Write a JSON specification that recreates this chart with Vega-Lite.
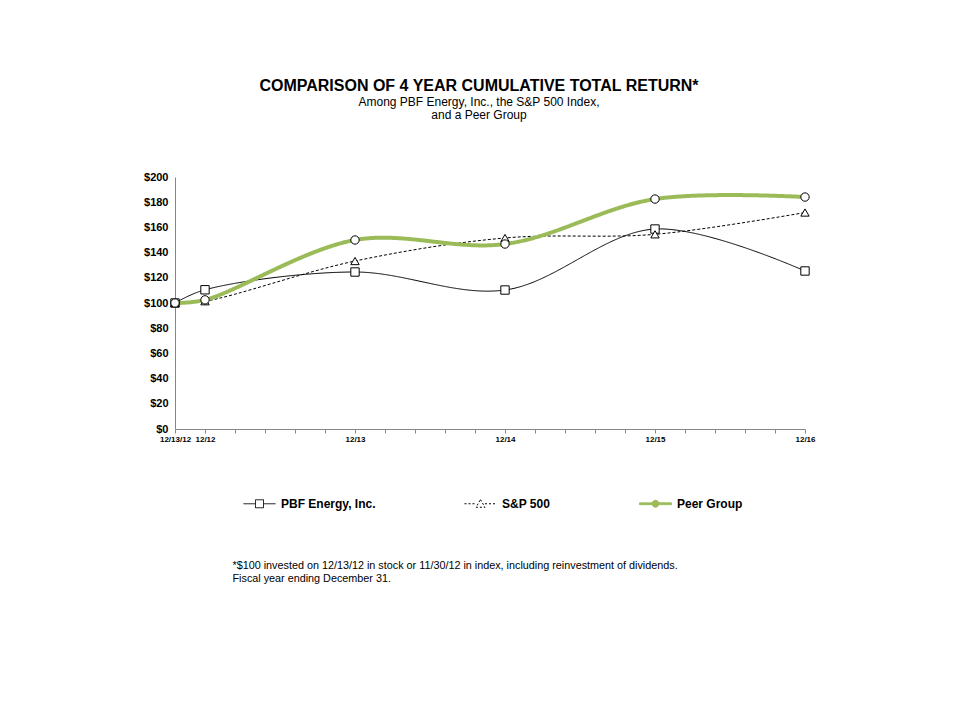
{
  "$schema": "https://vega.github.io/schema/vega-lite/v6.json",
  "width": 630,
  "height": 252,
  "autosize": "none",
  "padding": {"left": 175, "top": 177, "right": 155, "bottom": 291},
  "background": "white",
  "config": {"font": "Liberation Sans", "view": {"stroke": null}},
  "title": {
    "text": "COMPARISON OF 4 YEAR CUMULATIVE TOTAL RETURN*",
    "subtitle": ["Among PBF Energy, Inc., the S&P 500 Index,", "and a Peer Group"],
    "anchor": "middle",
    "frame": "group",
    "dx": -11,
    "offset": 50,
    "font": "Liberation Sans",
    "fontSize": 16,
    "fontWeight": "bold",
    "color": "black",
    "subtitleFont": "Liberation Sans",
    "subtitleFontSize": 12,
    "subtitleColor": "black",
    "subtitlePadding": 3,
    "subtitleLineHeight": 13
  },
  "data": {
    "values": [
      {"x": 0, "series": "PBF Energy, Inc.", "value": 100},
      {"x": 1, "series": "PBF Energy, Inc.", "value": 110.5},
      {"x": 6, "series": "PBF Energy, Inc.", "value": 124.6},
      {"x": 11, "series": "PBF Energy, Inc.", "value": 110.3},
      {"x": 16, "series": "PBF Energy, Inc.", "value": 158.7},
      {"x": 21, "series": "PBF Energy, Inc.", "value": 125.4},
      {"x": 0, "series": "S&P 500", "value": 100},
      {"x": 1, "series": "S&P 500", "value": 101.4},
      {"x": 6, "series": "S&P 500", "value": 133.3},
      {"x": 11, "series": "S&P 500", "value": 151.6},
      {"x": 16, "series": "S&P 500", "value": 154.5},
      {"x": 21, "series": "S&P 500", "value": 171.8},
      {"x": 0, "series": "Peer Group", "value": 100},
      {"x": 1, "series": "Peer Group", "value": 102.5},
      {"x": 6, "series": "Peer Group", "value": 150.0},
      {"x": 11, "series": "Peer Group", "value": 146.8},
      {"x": 16, "series": "Peer Group", "value": 182.5},
      {"x": 21, "series": "Peer Group", "value": 184.1}
    ]
  },
  "encoding": {
    "x": {
      "field": "x",
      "type": "quantitative",
      "scale": {"domain": [0, 21], "nice": false, "zero": false},
      "axis": {
        "values": [0,1,2,3,4,5,6,7,8,9,10,11,12,13,14,15,16,17,18,19,20,21],
        "labelExpr": "datum.value == 0 ? '12/13/12' : datum.value == 1 ? '12/12' : datum.value == 6 ? '12/13' : datum.value == 11 ? '12/14' : datum.value == 16 ? '12/15' : datum.value == 21 ? '12/16' : ''",
        "labelOverlap": false,
        "labelFlush": false,
        "grid": false,
        "domainColor": "#868686",
        "tickColor": "#868686",
        "tickSize": 4,
        "labelFont": "Liberation Sans",
        "labelFontSize": 8,
        "labelFontWeight": "bold",
        "labelColor": "black",
        "labelPadding": 2,
        "title": ["*$100 invested on 12/13/12 in stock or 11/30/12 in index, including reinvestment of dividends.", "Fiscal year ending December 31."],
        "titleFont": "Liberation Sans",
        "titleFontSize": 10.8,
        "titleFontWeight": "normal",
        "titleColor": "black",
        "titleAlign": "left",
        "titleAnchor": "start",
        "titleX": 57,
        "titleY": 139,
        "titleBaseline": "alphabetic",
        "titleLineHeight": 13
      }
    },
    "y": {
      "field": "value",
      "type": "quantitative",
      "scale": {"domain": [0, 200], "nice": false},
      "axis": {
        "values": [0,20,40,60,80,100,120,140,160,180,200],
        "format": "$d",
        "grid": false,
        "ticks": false,
        "domainColor": "#868686",
        "labelFont": "Liberation Sans",
        "labelFontSize": 11,
        "labelFontWeight": "bold",
        "labelColor": "black",
        "labelPadding": 7,
        "labelFlush": false,
        "title": null
      }
    }
  },
  "layer": [
    {
      "mark": {"type": "line", "interpolate": "catmull-rom"},
      "encoding": {
        "color": {
          "field": "series",
          "type": "nominal",
          "scale": {"domain": ["PBF Energy, Inc.", "S&P 500", "Peer Group"], "range": ["black", "black", "#9bbb59"]},
          "legend": {
            "orient": "none",
            "legendX": 68,
            "legendY": 310,
            "direction": "horizontal",
            "columns": 3,
            "columnPadding": 86,
            "title": null,
            "symbolSize": 1024,
            "labelFont": "Liberation Sans",
            "labelFontSize": 12,
            "labelFontWeight": "bold",
            "labelColor": "black",
            "labelOffset": 5,
            "encode": {
              "symbols": {
                "update": {
                  "shape": {"signal": "datum.value === 'PBF Energy, Inc.' ? 'M-1,0H-0.25M0.25,0H1M-0.25,-0.25H0.25V0.25H-0.25Z' : datum.value === 'S&P 500' ? 'M-1,0H-0.28M0.28,0H1M0,-0.26L0.28,0.22H-0.28Z' : 'M-1,-0.055H-0.22V0.055H-1ZM0.22,-0.055H1V0.055H0.22ZM0.22,0L0.19,0.11L0.11,0.19L0,0.22L-0.11,0.19L-0.19,0.11L-0.22,0L-0.19,-0.11L-0.11,-0.19L0,-0.22L0.11,-0.19L0.19,-0.11Z'"},
                  "strokeDash": {"signal": "datum.value === 'S&P 500' ? [2,2] : [1,0]"},
                  "strokeWidth": {"value": 1},
                  "fill": {"signal": "datum.value === 'Peer Group' ? '#9bbb59' : 'transparent'"},
                  "opacity": {"value": 1}
                }
              }
            }
          }
        },
        "strokeWidth": {"condition": {"test": "datum.series === 'Peer Group'", "value": 4}, "value": 1},
        "strokeDash": {"condition": {"test": "datum.series === 'S&P 500'", "value": [3, 2]}, "value": [1, 0]}
      }
    },
    {
      "mark": {"type": "point", "fill": "white", "stroke": "black", "strokeWidth": 1, "opacity": 1, "size": 70},
      "encoding": {
        "shape": {
          "condition": [
            {"test": "datum.series === 'PBF Energy, Inc.'", "value": "square"},
            {"test": "datum.series === 'S&P 500'", "value": "triangle-up"}
          ],
          "value": "circle"
        }
      }
    }
  ]
}
